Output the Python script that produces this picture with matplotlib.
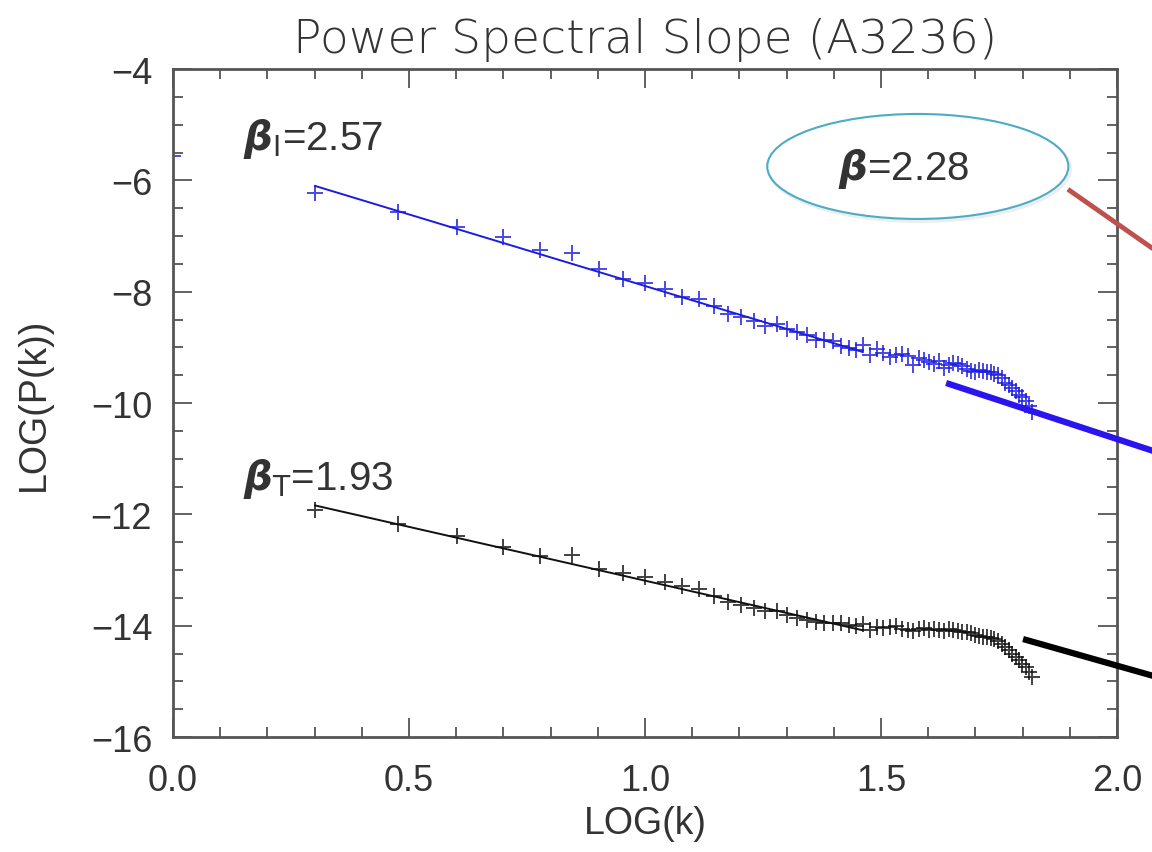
import matplotlib
matplotlib.use("Agg")
import matplotlib.pyplot as plt
from matplotlib.patches import Ellipse
from matplotlib.ticker import MultipleLocator, FormatStrFormatter
import numpy as np

plt.rcParams['font.family'] = ['Liberation Sans', 'DejaVu Sans']
plt.rcParams['mathtext.fontset'] = 'dejavusans'

# wavenumbers k (plotted as LOG(k))
k_blue = [1, 2, 3, 4, 5, 6, 7, 8, 9, 10, 11, 12, 13, 14, 15, 16, 17, 18, 19, 20,
          21, 22, 23, 24, 25, 26, 27, 28, 29, 30, 31, 32, 33, 34, 35, 36, 37, 38,
          39, 40, 41, 42, 43, 44, 45, 46, 47, 48, 49, 50, 51, 52, 53, 54, 55, 56,
          57, 58, 59, 60, 61, 62, 63, 64, 65, 66]
logp_blue = [-5.56, -6.22, -6.57, -6.83, -7.02, -7.25, -7.31, -7.60, -7.78, -7.85,
             -7.96, -8.10, -8.14, -8.25, -8.40, -8.46, -8.52, -8.61, -8.58, -8.67,
             -8.73, -8.78, -8.86, -8.86, -8.88, -8.97, -9.02, -9.04, -8.95, -9.14,
             -9.03, -9.10, -9.17, -9.14, -9.12, -9.15, -9.31, -9.20, -9.23, -9.26,
             -9.29, -9.25, -9.37, -9.32, -9.28, -9.30, -9.33, -9.38, -9.42, -9.44,
             -9.40, -9.42, -9.44, -9.45, -9.47, -9.50, -9.55, -9.64, -9.68, -9.73,
             -9.79, -9.85, -9.90, -9.96, -10.05, -10.16]

k_black = k_blue[1:]
logp_black = [-11.93, -12.17, -12.39, -12.58, -12.74, -12.73, -12.99, -13.06, -13.13,
              -13.22, -13.29, -13.34, -13.47, -13.57, -13.63, -13.69, -13.73, -13.73,
              -13.81, -13.87, -13.90, -13.93, -13.95, -13.95, -13.96, -13.99, -14.01,
              -13.97, -14.08, -14.03, -14.05, -14.03, -14.01, -14.06, -14.07, -14.10,
              -14.06, -14.05, -14.08, -14.06, -14.07, -14.09, -14.06, -14.08, -14.09,
              -14.11, -14.12, -14.14, -14.17, -14.18, -14.20, -14.21, -14.22, -14.24,
              -14.27, -14.33, -14.38, -14.44, -14.50, -14.56, -14.62, -14.68, -14.75,
              -14.83, -14.92]

# power-law fits
fit_x = [0.301, 1.46]
fit_blue = [-6.10, -9.08]
fit_black = [-11.84, -14.08]

# overlay arrows drawn on top (data coords, extend past the frame)
red_arrow = ([1.896, 2.08], [-6.16, -7.25])
blue_arrow = ([1.638, 2.08], [-9.64, -10.87])
black_arrow = ([1.801, 2.08], [-14.24, -14.91])

BLUE = '#1c1ce0'
TXT = '#333333'

fig = plt.figure(figsize=(11.52, 8.53), dpi=100)
ax = fig.add_axes([0.1502, 0.1348, 0.8194, 0.7831])

ax.plot(np.log10(k_blue), logp_blue, '+', color=BLUE, ms=11, mew=1.4, alpha=0.8)
ax.plot(fit_x, fit_blue, '-', color=BLUE, lw=1.4)
ax.plot(np.log10(k_black), logp_black, '+', color='#111111', ms=11, mew=1.4, alpha=0.8)
ax.plot(fit_x, fit_black, '-', color='#111111', lw=1.4)

ax.set_xlim(0, 2)
ax.set_ylim(-16, -4)
ax.xaxis.set_major_locator(MultipleLocator(0.5))
ax.xaxis.set_minor_locator(MultipleLocator(0.1))
ax.yaxis.set_major_locator(MultipleLocator(2))
ax.yaxis.set_minor_locator(MultipleLocator(0.5))
ax.xaxis.set_major_formatter(FormatStrFormatter('%.1f'))
ax.tick_params(which='both', direction='in', top=True, right=True,
               color='#555555', width=1.3, labelsize=26, labelcolor=TXT)
ax.tick_params(which='major', length=14)
ax.tick_params(which='minor', length=7.5)
ax.tick_params(axis='x', pad=19)
ax.tick_params(axis='y', pad=15)
for s in ax.spines.values():
    s.set_color('#555555')
    s.set_linewidth(2)

ax.set_title('Power Spectral Slope (A3236)', fontsize=34, color=TXT, pad=12,
             family='DejaVu Sans', fontweight='light')
ax.set_xlabel('LOG(k)', fontsize=27, color=TXT, labelpad=5)
ax.set_ylabel('LOG(P(k))', fontsize=27, color=TXT, labelpad=28)

ax.text(0.148, -5.44, r'$\boldsymbol{\beta}_{\mathrm{I}}$=2.57', fontsize=29, color=TXT)
ax.text(0.148, -11.54, r'$\boldsymbol{\beta}_{\mathrm{T}}$=1.93', fontsize=29, color=TXT)

shadow = Ellipse((1.582, -5.79), 0.638, 1.886, facecolor='none',
                 edgecolor='#cccccc', lw=2.5, alpha=0.35, zorder=4)
ax.add_patch(shadow)
ell = Ellipse((1.578, -5.75), 0.638, 1.886, facecolor='white',
              edgecolor='#4BACC6', lw=1.5, zorder=5)
ax.add_patch(ell)
ax.text(1.549, -5.78, r'$\boldsymbol{\beta}$=2.28', fontsize=29, color=TXT,
        ha='center', va='center', zorder=6)

ax.plot(*red_arrow, color='#C0504D', lw=3.5, clip_on=False, solid_capstyle='butt', zorder=7)
ax.plot(*blue_arrow, color='#2a14f0', lw=4.5, clip_on=False, solid_capstyle='butt', zorder=7)
ax.plot(*black_arrow, color='black', lw=4.5, clip_on=False, solid_capstyle='butt', zorder=7)

fig.savefig('out.png', dpi=100)
